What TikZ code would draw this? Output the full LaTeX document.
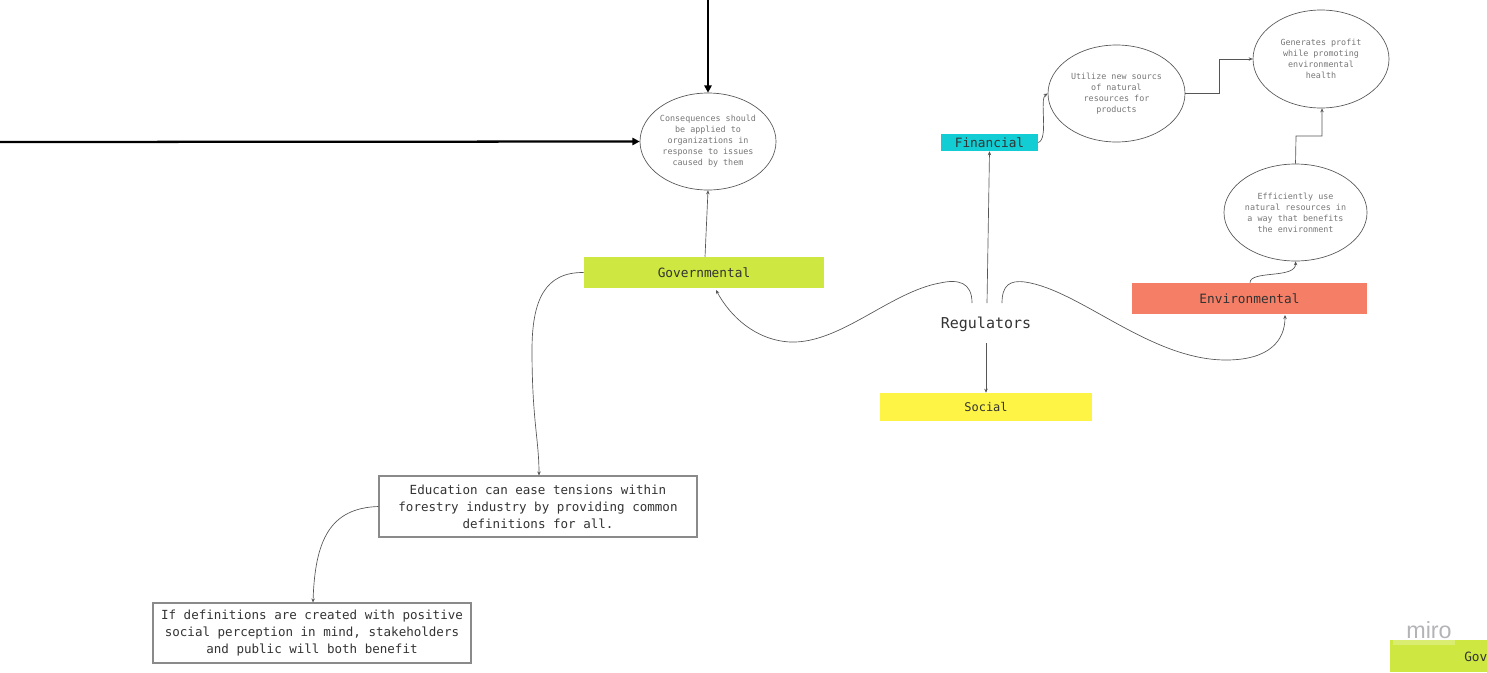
\documentclass[tikz,border=0pt]{standalone}
\usepackage{fontspec}
\setmonofont{DejaVu Sans Mono}
\newfontfamily\wmfont{Liberation Sans}
\usetikzlibrary{arrows.meta,shapes.geometric}
\definecolor{govc}{HTML}{CEE741}
\definecolor{finc}{HTML}{12CDD4}
\definecolor{socc}{HTML}{FEF445}
\definecolor{envc}{HTML}{F47E66}
\definecolor{txt}{HTML}{333333}
\definecolor{eltxt}{HTML}{777777}
\definecolor{edge}{HTML}{555555}
\definecolor{boxedge}{HTML}{8A8A8A}
\definecolor{wm}{HTML}{B4B4B8}
\tikzset{
  catbox/.style={rectangle,inner sep=0pt,text=txt,font=\ttfamily\fontsize{9.6}{12}\selectfont},
  idea/.style={ellipse,draw=edge,line width=0.5pt,fill=white,inner sep=0pt,align=center,text=eltxt,font=\ttfamily\fontsize{6.3}{8.25}\selectfont},
  notebox/.style={rectangle,draw=boxedge,line width=0.8pt,fill=white,inner sep=0pt,align=center,text=txt,font=\ttfamily\fontsize{9.4}{12.75}\selectfont},
  thin/.style={draw=edge,line width=0.5pt,-{Stealth[length=3pt,width=2.6pt]}},
  thick/.style={draw=black,line width=1.7pt,-{Triangle[length=5.5pt,width=5.5pt]}}
}
\begin{document}
\begin{tikzpicture}[x=0.75pt,y=-0.75pt]
\useasboundingbox (0,0) rectangle (1487,672);
% nodes
\node[idea,minimum width=102pt,minimum height=72.75pt] (cons) at (708,141.5) {Consequences should\\be applied to\\organizations in\\response to issues\\caused by them};
\node[idea,minimum width=102.75pt,minimum height=72.75pt] (util) at (1116.5,93.5) {Utilize new sourcs\\of natural\\resources for\\products};
\node[idea,minimum width=102pt,minimum height=73.5pt] (gen) at (1321,59) {Generates profit\\while promoting\\environmental\\health};
\node[idea,minimum width=107.25pt,minimum height=72.75pt] (eff) at (1295.5,212.5) {Efficiently use\\natural resources in\\a way that benefits\\the environment};
\node[catbox,fill=govc,minimum width=180pt,minimum height=23.25pt] (gov) at (704,272.5) {Governmental};
\node[catbox,fill=finc,minimum width=72.75pt,minimum height=12.75pt] (fin) at (989.5,142.5) {Financial};
\node[catbox,fill=socc,minimum width=159pt,minimum height=21pt,font=\ttfamily\fontsize{9}{11}\selectfont] (soc) at (986,407) {Social};
\node[catbox,fill=envc,minimum width=176.25pt,minimum height=23.25pt] (env) at (1249.5,298.5) {Environmental};
\node[text=txt,font=\ttfamily\fontsize{11.25}{13}\selectfont,inner sep=0pt] (reg) at (986,324) {Regulators};
\node[notebox,minimum width=238.5pt,minimum height=45.75pt] (edu) at (538,506.5) {Education can ease tensions within\\forestry industry by providing common\\definitions for all.};
\node[notebox,minimum width=238.5pt,minimum height=45pt] (iff) at (312,633) {If definitions are created with positive\\social perception in mind, stakeholders\\and public will both benefit};
% external incoming arrows
\coordinate (topin) at (708,0);
\coordinate (leftin) at (0,142);
\draw[thick] (topin) -- (cons.north);
\draw[thick] (leftin) -- (cons.west);
% connectors
\draw[thin] (gov.north -| 705,0) -- (cons.south);
\draw[thin] (987,303) -- (fin.south);
\draw[thin] (986,343) -- (soc.north);
\draw[thin] (972,303) .. controls (972,282) and (958,279) .. (940,283)
  .. controls (890,292) and (840,344) .. (790,342)
  .. controls (755,340) and (730,316) .. (716,290);
\draw[thin] (1002,303) .. controls (1002,285) and (1010,280) .. (1025,282)
  .. controls (1080,290) and (1150,360) .. (1226,360)
  .. controls (1270,360) and (1285,340) .. (1285,315);
\draw[thin] (env.north -| 1250,0) .. controls (1250,270) and (1296,279) .. (eff.south);
\draw[thin] (eff.north) -- (1296,136) -- (1322,136) -- (gen.south -| 1322,0);
\draw[thin] (fin.east) .. controls (1049,139) and (1039,99) .. (util.west);
\draw[thin] (util.east) -- (1219,93.5) -- (1219,59) -- (gen.west);
\draw[thin] (gov.west) .. controls (545,272) and (532,300) .. (532,350)
  .. controls (532,420) and (539,440) .. (edu.north -| 539,0);
\draw[thin] (edu.west) .. controls (330,508) and (315,540) .. (iff.north -| 313,0);
% watermark corner
\node[text=wm,font=\wmfont\fontsize{17.5}{19}\selectfont,inner sep=0pt] (miro) at (1429,630) {miro};
\fill[govc] (1390,640) rectangle (1487,672);
\fill[white,opacity=0.25] (1393,640) rectangle (1455,645);
\node[anchor=west,text=txt,font=\ttfamily\fontsize{9.6}{12}\selectfont,inner sep=0pt] (govpart) at (1464,657) {Gov};
\end{tikzpicture}
\end{document}
